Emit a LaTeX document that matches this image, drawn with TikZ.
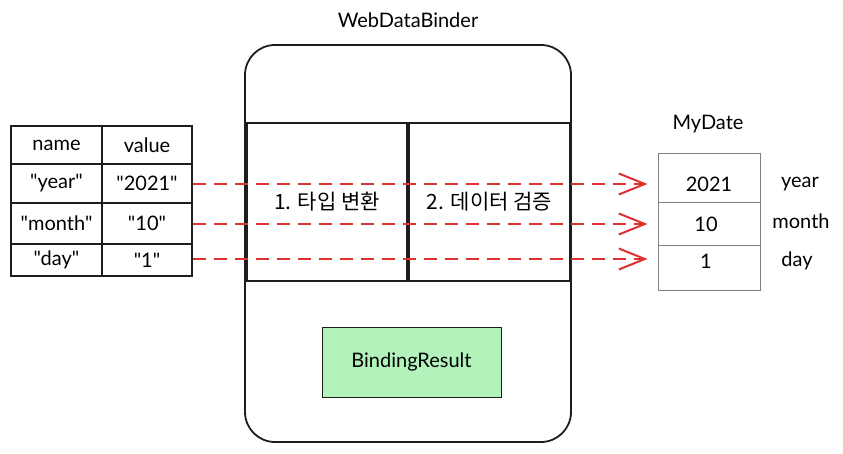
\documentclass[tikz,border=0pt]{standalone}
\usepackage{fontspec}
\setmainfont{Lato}[Ligatures=TeXOff]
\newfontfamily\krfont{Noto Sans CJK KR}
\usetikzlibrary{arrows.meta}
\definecolor{inkline}{HTML}{1E1E1E}
\definecolor{flowred}{HTML}{E03131}
\definecolor{resultgreen}{HTML}{B2F2BB}
\begin{document}
\begin{tikzpicture}[x=1pt,y=-1pt,font=\fontsize{20}{24}\selectfont]
	\tikzstyle{cell}=[draw=inkline,line width=1.8pt,inner sep=0pt,minimum width=91pt]
	\tikzstyle{stepbox}=[draw=inkline,line width=1.8pt,inner sep=0pt,minimum width=160pt,minimum height=158pt,font=\krfont\fontsize{21}{24}\selectfont]
	\tikzstyle{flow}=[draw=flowred,line width=2pt,dash pattern=on 13pt off 8pt,-{Straight Barb[length=26pt,width=21pt,line width=2pt]},shorten >=10pt]
	
	\useasboundingbox (0,0) rectangle (843,454);
	
	\node[cell,minimum height=38pt](n0) at (56.5,145){name};
	\node[cell,minimum height=38pt,minimum width=90pt](v0) at (147,145){value};
	\node[cell,minimum height=39pt](n1) at (56.5,183.5){"year"};
	\node[cell,minimum height=39pt,minimum width=90pt](v1) at (147,183.5){"2021"};
	\node[cell,minimum height=41pt](n2) at (56.5,223.5){"month"};
	\node[cell,minimum height=41pt,minimum width=90pt](v2) at (147,223.5){"10"};
	\node[cell,minimum height=32pt](n3) at (56.5,260){"day"};
	\node[cell,minimum height=32pt,minimum width=90pt](v3) at (147,260){"1"};
	
	\node(bindertitle) at (408,20){WebDataBinder};
	\node[draw=inkline,line width=1.8pt,rounded corners=30pt,minimum width=326pt,minimum height=397pt](binder) at (408,243.5){};
	\node[stepbox](convert) at (327,202){1. 타입 변환};
	\node[stepbox,minimum width=161pt](validate) at (489.5,202){2. 데이터 검증};
	\node[draw=inkline,line width=1pt,fill=resultgreen,minimum width=179pt,minimum height=70pt](result) at (411.5,362){BindingResult};
	
	\node(mydatetitle) at (708,124){MyDate};
	\node[draw=gray,line width=1pt,minimum width=102pt,minimum height=137pt](mydate) at (709,222.5){};
	\draw[gray,line width=1pt] (658,203) -- (760,203);
	\draw[gray,line width=1pt] (658,246) -- (760,246);
	\node(d1) at (709,184){2021};
	\node(d2) at (706,224){10};
	\node(d3) at (706,261){1};
	\node(f1) at (800,184){year};
	\node(f2) at (801,221){month};
	\node(f3) at (797,261){day};
	
	\coordinate(e1) at (mydate.west |- d1);
	\coordinate(e2) at (mydate.west |- d2);
	\coordinate(e3) at ([yshift=2pt]mydate.west |- d3);
	\draw[flow] (v1.east |- e1) -- (e1);
	\draw[flow] (v2.east |- e2) -- (e2);
	\draw[flow] (v3.east |- e3) -- (e3);
\end{tikzpicture}
\end{document}
